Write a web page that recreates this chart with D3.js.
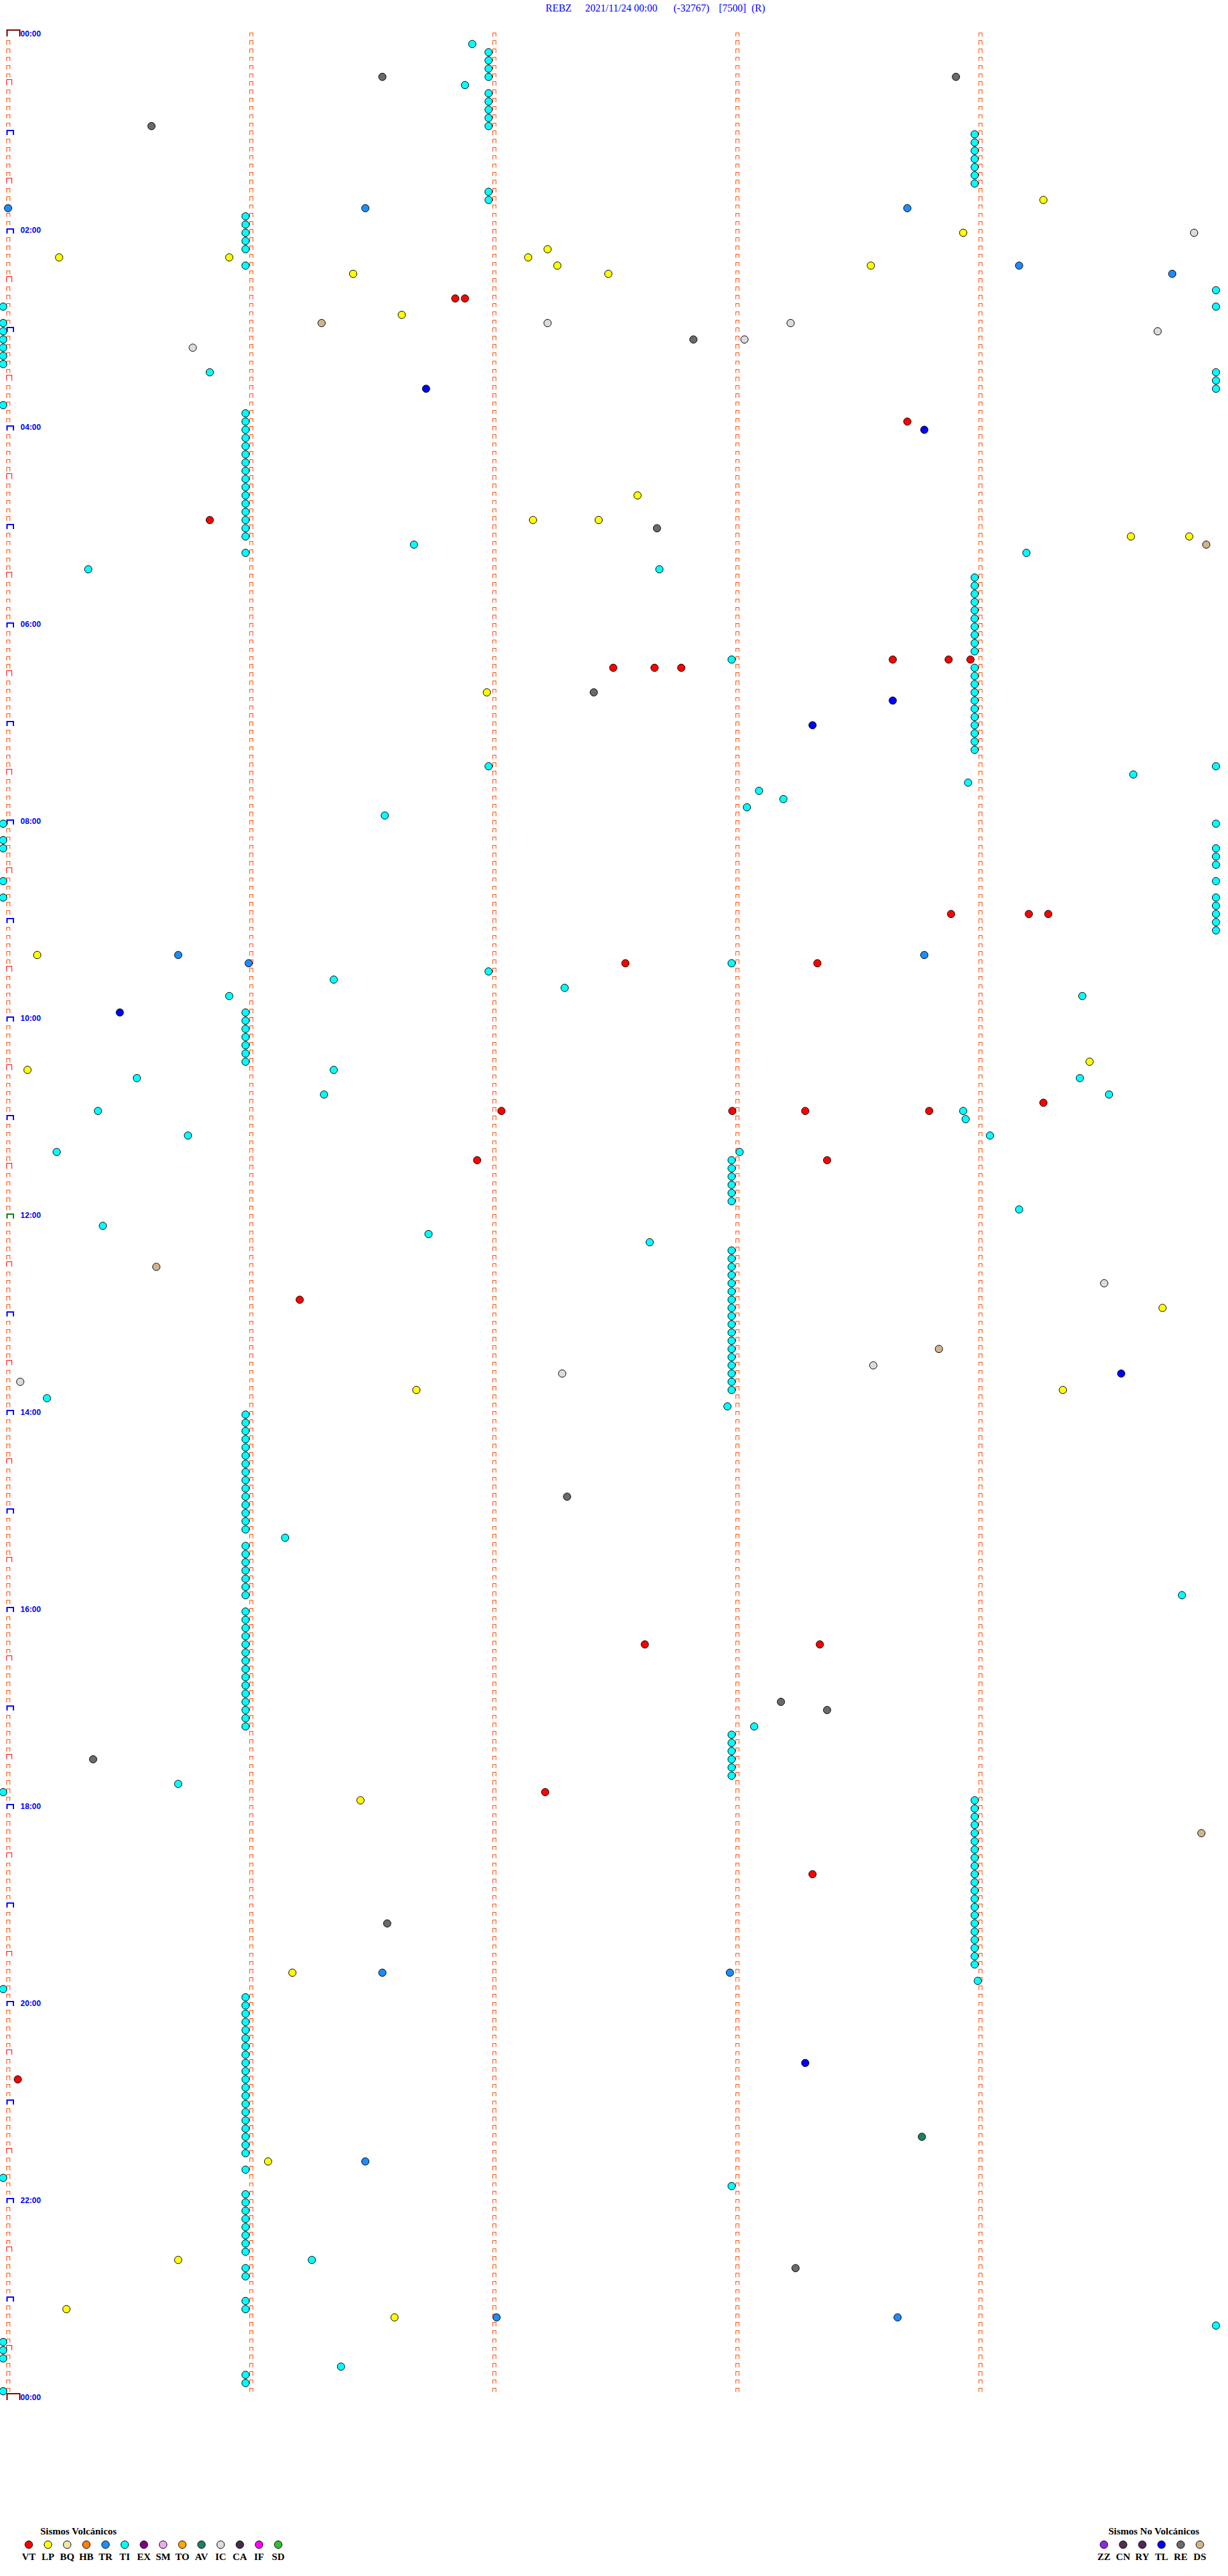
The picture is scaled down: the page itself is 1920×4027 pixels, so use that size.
<!DOCTYPE html>
<html><head><meta charset="utf-8">
<script src="https://cdn.jsdelivr.net/npm/d3@7"></script>
<style>body{margin:0;background:#fff}svg{display:block}</style>
</head><body>
<script>
// ---- Title parts ----
const titleParts = ["REBZ", "2021/11/24 00:00", "(-32767)", "[7500]", "(R)"];
const titleX = [853, 915, 1053, 1124, 1175];

// ---- Hour labels (every 2 hours) ----
const hourLabels = ["00:00","02:00","04:00","06:00","08:00","10:00","12:00","14:00","16:00","18:00","20:00","22:00","00:00"];

// ---- Events: minutes since 00:00 (each helicorder row = 5 minutes) ----
const VT = [161.86,161.90,238.72,295.85,383.66,383.89,383.98,387.51,387.68,387.79,538.90,539.22,539.30,567.56,568.35,654.28,657.05,658.00,658.30,658.81,686.95,688.39,771.22,982.64,983.36,1072.23,1123.33,1245.06];
const LP = [104.28,123.95,132.24,135.23,135.93,137.16,142.28,143.57,146.44,147.49,171.64,282.61,297.18,297.45,309.64,309.88,401.99,560.14,629.47,630.10,779.77,826.70,829.36,1076.47,1181.19,1296.09,1355.72,1385.26,1391.61];
const TR = [105.02,106.49,108.72,144.18,149.81,560.72,563.79,566.01,1181.56,1182.99,1296.49,1392.03,1393.68];
const TI = [6.93,11.997,16.997,21.997,26.997,31.90,36.997,41.997,46.997,51.997,56.997,
  63.997,68.997,73.997,78.997,83.997,88.997,93.997,96.997,101.997,
  110.997,115.997,120.997,125.997,130.997,140.997,159.99,165.00,169.99,175.00,180.00,185.00,190.00,195.00,200.00,
  205.85,209.99,214.99,219.99,225.00,
  230.997,235.997,240.997,245.997,250.997,255.997,260.997,265.997,270.997,275.997,280.997,285.997,290.997,295.997,300.997,305.997,
  311.69,315.997,319.21,325.35,327.70,
  333.997,338.997,343.997,348.997,353.997,358.997,363.997,368.997,373.997,378.997,382.997,
  388.997,393.997,398.997,403.997,408.997,413.997,418.997,423.997,428.997,433.997,438.997,
  446.997,449.99,454.65,458.97,463.11,468.21,473.06,476.57,480.00,484.99,490.00,495.00,
  499.99,504.99,509.99,515.00,519.99,525.00,529.99,534.99,539.99,544.99,549.99,
  567.997,571.997,576.36,582.31,585.93,589.44,
  595.997,600.997,605.997,610.997,615.997,620.997,625.997,
  631.36,635.55,639.43,646.32,649.55,655.39,658.95,663.96,670.76,674.06,680.22,683.03,
  687.997,692.997,697.997,702.997,707.997,712.997,
  719.18,725.41,731.75,737.66,
  742.997,747.997,752.997,757.997,762.997,767.997,772.997,777.997,782.997,787.997,792.997,797.997,802.997,807.997,812.997,817.997,822.997,827.997,
  830.18,837.98,
  840.997,845.997,850.997,855.997,860.997,865.997,870.997,875.997,880.997,885.997,890.997,895.997,900.997,905.997,910.997,
  916.16,920.997,925.997,930.997,935.997,940.997,945.997,950.997,954.85,
  960.997,965.997,970.997,975.997,980.997,985.997,990.997,995.997,1000.997,1005.997,1010.997,1015.997,1020.997,1025.997,1030.997,
  1033.09,1037.997,1042.997,1047.997,1052.997,1057.997,1062.997,1065.72,1070.00,
  1078.997,1083.997,1088.997,1093.997,1098.997,1103.997,1108.997,1113.997,1118.997,1123.997,1128.997,1133.997,1138.997,1143.997,1148.997,1153.997,1158.997,1163.997,1168.997,1173.997,1178.997,
  1189.01,1190.00,
  1195.997,1200.997,1205.997,1210.997,1215.997,1220.997,1225.997,1230.997,1235.997,1240.997,1245.997,1250.997,1255.997,1260.997,1265.997,1270.997,1275.997,1280.997,1285.997,1290.997,
  1300.997,1305.00,1312.997,
  1315.997,1320.997,1325.997,1330.997,1335.997,1340.997,1345.997,1350.997,
  1356.27,1360.997,1365.997,1380.997,1385.997,1399.99,1405.00,1410.00,1415.00,1421.39,1425.997,1430.997,1435.00];
const TL = [216.74,243.79,408.66,423.33,595.48,819.60,1238.30];
const RE = [26.56,28.92,55.61,187.84,302.69,402.43,892.32,1018.20,1023.39,1050.37,1151.58,1363.26];
const IC = [124.90,177.24,178.24,184.75,188.05,190.78,764.53,813.58,817.30,820.07];
const DS = [176.31,314.95,750.63,803.85,1099.93];
const AV = [1283.78];

// ---- Legend ----
const volcTypes  = ["VT","LP","BQ","HB","TR","TI","EX","SM","TO","AV","IC","CA","IF","SD"];
const volcColors = ["#ff0000","#ffff00","#eee6a8","#ff8000","#1e8cff","#00ffff","#800080","#eeaaee","#ffa500","#1e8060","#dcdcdc","#4a2a4a","#ff00ff","#30c030"];
const nonVolcTypes  = ["ZZ","CN","RY","TL","RE","DS"];
const nonVolcColors = ["#8a2be2","#503050","#502a50","#0000ff","#6a6a6a","#d2b48c"];

const colorOf = {};
volcTypes.forEach((t,i)=>colorOf[t]=volcColors[i]);
nonVolcTypes.forEach((t,i)=>colorOf[t]=nonVolcColors[i]);

const eventSets = {VT, LP, TR, TI, TL, RE, IC, DS, AV};

const W = 1920, H = 4027;
const ROWS = 288, ROW_MIN = 5;
const xScale = d3.scaleLinear().domain([0, ROW_MIN]).range([5, 1905]);
const yScale = d3.scaleLinear().domain([0, ROWS]).range([54, 3749]);

const svg = d3.select("body").append("svg").attr("width", W).attr("height", H)
  .style("background", "#fff");

// Title
svg.append("g").selectAll("text").data(titleParts).join("text")
  .attr("x", (d,i)=>titleX[i]).attr("y", 18)
  .attr("font-family", "'Liberation Serif','Times New Roman',serif")
  .attr("font-size", 16).attr("fill", "#0000ff").text(d=>d);

// Minute tick marks (⊓) per row and column
const marksG = svg.append("g").attr("fill","none");
const markData = [];
for (let c = 0; c < ROW_MIN; c++) {
  const maxRow = c === 0 ? ROWS : ROWS - 1;
  for (let r = 0; r <= maxRow; r++) markData.push({c, r});
}
function markPath(d) {
  const x0 = xScale(d.c) + 5.5, y = yScale(d.r);
  if (d.c === 0 && (d.r === 0 || d.r === ROWS))
    return `M${x0},${y+3}V${y-7}H${x0+20}V${y+3}`;
  if (d.c === 0 && d.r % 12 === 0)
    return `M${x0},${y+3}V${y-4}H${x0+10}V${y+3}`;
  if (d.c === 0 && d.r % 12 === 6)
    return `M${x0},${y+2}V${y-6}H${x0+8}V${y+2}`;
  return `M${x0},${y+3}V${y-3}H${x0+5}V${y+3}`;
}
function markColor(d) {
  if (d.c === 0 && (d.r === 0 || d.r === ROWS)) return "#800000";
  if (d.c === 0 && d.r === 144) return "#008000";
  if (d.c === 0 && d.r % 12 === 0) return "#0000ff";
  if (d.c === 0 && d.r % 12 === 6) return "#ff0000";
  return "#ff4a00";
}
function markWidth(d) {
  if (d.c === 0 && d.r % 12 === 0) return 2;
  return 1;
}

// Events
const events = [];
Object.entries(eventSets).forEach(([type, arr]) => {
  arr.forEach(t => {
    const row = Math.floor(t / ROW_MIN + 1e-9);
    events.push({type, t, row, m: t - row * ROW_MIN});
  });
});
events.sort((a,b)=>a.t-b.t);

svg.append("g").selectAll("circle").data(events).join("circle")
  .attr("cx", d=>xScale(d.m)).attr("cy", d=>yScale(d.row)+2)
  .attr("r", 5.8).attr("fill", d=>colorOf[d.type])
  .attr("stroke", "#000").attr("stroke-width", 1);

marksG.selectAll("path").data(markData).join("path")
  .attr("d", markPath).attr("stroke", markColor).attr("stroke-width", markWidth)
  .attr("shape-rendering", "crispEdges");

// Hour labels
svg.append("g").selectAll("text").data(hourLabels).join("text")
  .attr("x", 32).attr("y", (d,i)=>yScale(i*24)+2.5)
  .attr("font-family", "'Liberation Sans',Arial,sans-serif").attr("font-weight", "bold")
  .attr("font-size", 12.5).attr("fill", "#0000ff").text(d=>d);

// Legends
function legend(title, titleX, types, colors, x0) {
  const g = svg.append("g")
    .attr("font-family", "'Liberation Serif','Times New Roman',serif")
    .attr("font-weight", "bold").attr("fill", "#000");
  g.append("text").attr("x", titleX).attr("y", 3962).attr("font-size", 15.5).text(title);
  const lx = d3.scalePoint().domain(types).range([x0, x0 + 30*(types.length-1)]);
  g.selectAll("circle").data(types).join("circle")
    .attr("cx", d=>lx(d)).attr("cy", 3978).attr("r", 6)
    .attr("fill", (d,i)=>colors[i]).attr("stroke", "#000").attr("stroke-width", 1);
  g.selectAll("text.lab").data(types).join("text").attr("class","lab")
    .attr("x", d=>lx(d)).attr("y", 4002).attr("text-anchor","middle")
    .attr("font-size", 15.5).text(d=>d);
}
legend("Sismos Volcánicos", 63, volcTypes, volcColors, 45);
legend("Sismos No Volcánicos", 1733, nonVolcTypes, nonVolcColors, 1726);
</script>
</body></html>
